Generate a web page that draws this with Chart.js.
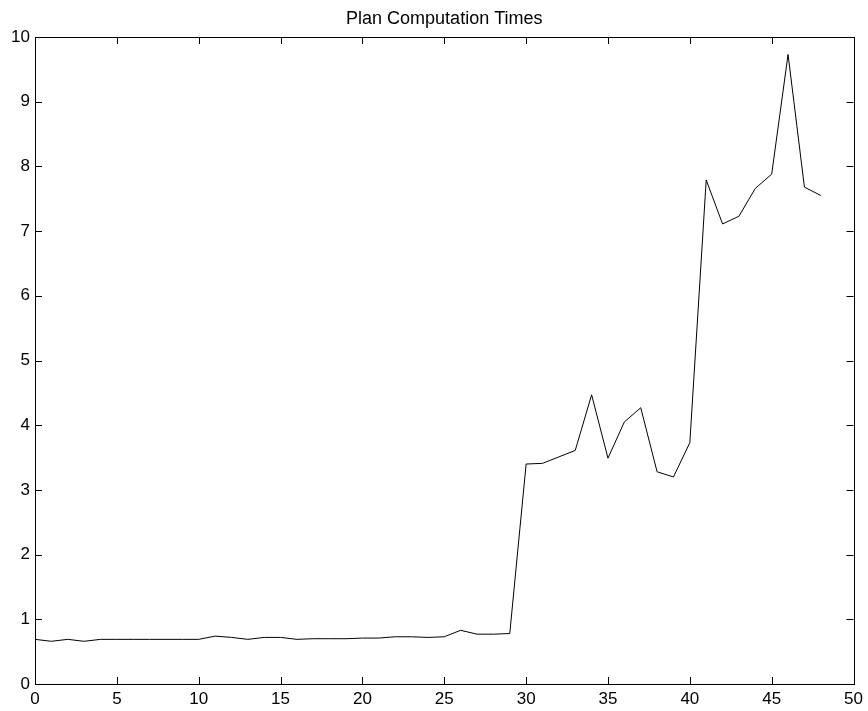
<!DOCTYPE html>
<html>
<head>
    <meta charset="UTF-8" />
    <title>Plan Computation Times</title>
    <script src="https://cdn.jsdelivr.net/npm/chart.js"></script>
    <style>
        body { margin: 0; background: #fff; }
        #wrap { width: 868px; height: 711px; }
    </style>
</head>
<body>
    <div id="wrap">
        <canvas id="planChart" width="868" height="711"></canvas>
    </div>

    <script type="text/javascript">
        // run index and measured plan time
        const runs = [0, 1, 2, 3, 4, 5, 6, 7, 8, 9, 10, 11, 12, 13, 14, 15, 16, 17, 18, 19, 20, 21, 22, 23, 24,
                      25, 26, 27, 28, 29, 30, 31, 32, 33, 34, 35, 36, 37, 38, 39, 40, 41, 42, 43, 44, 45, 46, 47, 48];
        const times = [0.69, 0.66, 0.69, 0.66, 0.69, 0.69, 0.69, 0.69, 0.69, 0.69, 0.69, 0.74, 0.72, 0.69, 0.72, 0.72, 0.69, 0.70, 0.70, 0.70,
                       0.71, 0.71, 0.73, 0.73, 0.72, 0.73, 0.83, 0.77, 0.77, 0.78, 3.40, 3.41, 3.51, 3.61, 4.47, 3.49, 4.05, 4.27, 3.28, 3.20,
                       3.73, 7.79, 7.11, 7.23, 7.66, 7.88, 9.73, 7.68, 7.55];
        const xTicks = [0, 5, 10, 15, 20, 25, 30, 35, 40, 45, 50];
        const yTicks = [0, 1, 2, 3, 4, 5, 6, 7, 8, 9, 10];
        const chartTitle = 'Plan Computation Times';

        const fontFamily = '"Liberation Sans", Helvetica, Arial, sans-serif';

        // box around the plot, inward ticks on all four sides, title centred over the plot area
        const boxTicks = {
            id: 'boxTicks',
            afterDraw(chart) {
                const ctx = chart.ctx;
                const a = chart.chartArea;
                const xs = chart.scales.x;
                const ys = chart.scales.y;
                const len = 7;
                ctx.save();
                ctx.strokeStyle = '#000';
                ctx.lineWidth = 1;
                ctx.beginPath();
                xTicks.forEach(v => {
                    const px = Math.round(xs.getPixelForValue(v)) + 0.5;
                    ctx.moveTo(px, a.bottom);
                    ctx.lineTo(px, a.bottom - len);
                    ctx.moveTo(px, a.top);
                    ctx.lineTo(px, a.top + len);
                });
                yTicks.forEach(v => {
                    const py = Math.round(ys.getPixelForValue(v)) + 0.5;
                    ctx.moveTo(a.left, py);
                    ctx.lineTo(a.left + len, py);
                    ctx.moveTo(a.right, py);
                    ctx.lineTo(a.right - len, py);
                });
                ctx.stroke();
                ctx.strokeRect(Math.round(a.left) + 0.5, Math.round(a.top) + 0.5,
                               Math.round(a.right - a.left), Math.round(a.bottom - a.top));

                ctx.fillStyle = '#000';
                ctx.font = '18px ' + fontFamily;
                ctx.textAlign = 'center';
                ctx.textBaseline = 'alphabetic';
                ctx.fillText(chartTitle, (a.left + a.right) / 2, 24);
                ctx.restore();
            }
        };

        function initChart() {
            const ctx = document.getElementById('planChart').getContext('2d');
            new Chart(ctx, {
                type: 'line',
                data: {
                    datasets: [{
                        label: chartTitle,
                        data: runs.map((r, i) => ({ x: r, y: times[i] })),
                        borderColor: '#000',
                        borderWidth: 1,
                        pointRadius: 0,
                        tension: 0,
                        fill: false
                    }]
                },
                options: {
                    responsive: false,
                    animation: false,
                    devicePixelRatio: 1,
                    layout: { padding: { left: 0, right: 13, top: 37, bottom: 0 } },
                    plugins: {
                        legend: { display: false },
                        tooltip: { enabled: false },
                        title: { display: false }
                    },
                    scales: {
                        x: {
                            type: 'linear',
                            min: 0,
                            max: 50,
                            afterBuildTicks: s => { s.ticks = xTicks.map(v => ({ value: v })); },
                            afterFit: s => { s.height = 27; },
                            grid: { display: false, drawTicks: false },
                            border: { display: false },
                            ticks: {
                                color: '#000',
                                padding: 5,
                                maxRotation: 0,
                                font: { family: fontFamily, size: 17 }
                            }
                        },
                        y: {
                            type: 'linear',
                            min: 0,
                            max: 10,
                            afterBuildTicks: s => { s.ticks = yTicks.map(v => ({ value: v })); },
                            afterFit: s => { s.width = 35; },
                            grid: { display: false, drawTicks: false },
                            border: { display: false },
                            ticks: {
                                color: '#000',
                                padding: 5,
                                font: { family: fontFamily, size: 17 }
                            }
                        }
                    }
                },
                plugins: [boxTicks]
            });
        }

        window.onload = initChart;
    </script>
</body>
</html>
